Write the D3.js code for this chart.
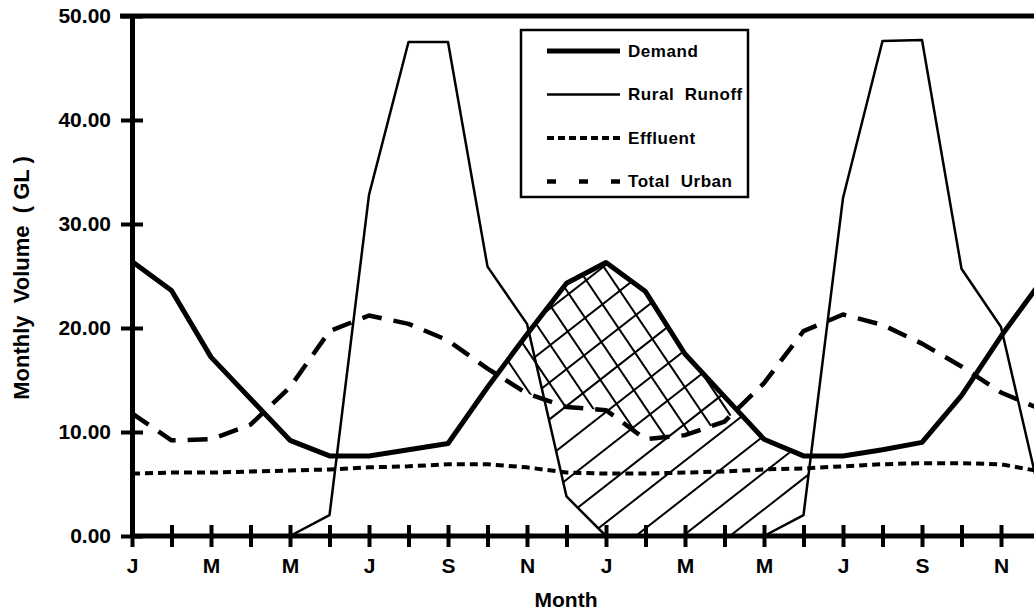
<!DOCTYPE html>
<html>
<head>
<meta charset="utf-8">
<script src="https://cdn.jsdelivr.net/npm/d3@7"></script>
<style>
  html, body { margin: 0; padding: 0; background: #fff; }
  svg { display: block; }
  text { font-family: "Liberation Sans", Arial, sans-serif; font-weight: bold; fill: #000; }
</style>
</head>
<body>
<svg id="chart" width="1034" height="615"></svg>
<script>
// Monthly water balance, two years (Jan..Dec, Jan..Dec, Jan)
const months = ["J","F","M","A","M","J","J","A","S","O","N","D",
                "J","F","M","A","M","J","J","A","S","O","N","D","J"];

const demand   = [26.4, 23.6, 17.2, 13.2, 9.2, 7.7, 7.7, 8.3, 8.9, 14.3, 19.4, 24.3,
                  26.3, 23.5, 17.5, 13.4, 9.3, 7.7, 7.7, 8.3, 9.0, 13.5, 19.2, 24.4, 26.4];
const runoff   = [0, 0, 0, 0, 0, 2.0, 32.8, 47.5, 47.5, 25.9, 20.4, 3.8,
                  0, 0, 0, 0, 0, 2.0, 32.5, 47.6, 47.7, 25.7, 20.1, 3.7, 0];
const effluent = [6.0, 6.1, 6.1, 6.2, 6.3, 6.4, 6.6, 6.7, 6.9, 6.9, 6.6, 6.1,
                  6.0, 6.0, 6.1, 6.2, 6.4, 6.5, 6.7, 6.9, 7.0, 7.0, 6.9, 6.2, 6.0];
const urban    = [11.8, 9.2, 9.3, 10.7, 14.3, 19.7, 21.2, 20.4, 18.8, 16.1, 13.7, 12.4,
                  12.1, 9.3, 9.7, 11.0, 14.7, 19.7, 21.3, 20.3, 18.5, 16.3, 13.8, 12.2, 11.8];

const yTicks = [0, 10, 20, 30, 40, 50];
const lastLabelledMonth = 22;

// Shaded shortfall periods (month index ranges)
const runoffShortfall = [10, 18];   // demand above rural runoff
const urbanShortfall  = [9, 17];    // demand above total urban supply

const legendItems = [
  { label: "Demand",        key: "demand" },
  { label: "Rural  Runoff", key: "runoff" },
  { label: "Effluent",      key: "effluent" },
  { label: "Total  Urban",  key: "urban" }
];

const styles = {
  demand:   { width: 5,   dash: null,    legendDash: null },
  runoff:   { width: 2.5, dash: null,    legendDash: null },
  effluent: { width: 4,   dash: "8,5",   legendDash: "7,4" },
  urban:    { width: 4.5, dash: "20,12", legendDash: "9,23" }
};
const seriesData = { demand, runoff, effluent, urban };

const svg = d3.select("#chart");
const plotLeft = 132, plotTop = 16, plotBottom = 536, monthW = 39.5;
const nM = months.length - 1;

const x = d3.scaleLinear().domain([0, nM]).range([plotLeft, plotLeft + monthW * nM]);
const y = d3.scaleLinear().domain([0, 50]).range([plotBottom, plotTop]);
const idx = d3.range(months.length);

// ---- hatching: explicit parallel strokes clipped to each region
const defs = svg.append("defs");

function hatchLines(g, angleDeg, spacing, x0, x1) {
  // lines through the box [x0,x1] x [plotTop, plotBottom] at the given angle
  const a = angleDeg * Math.PI / 180;
  const dx = Math.cos(a), dy = -Math.sin(a);     // direction along the line
  const nx = -dy, ny = dx;                        // normal
  const cx = (x0 + x1) / 2, cy = (plotTop + plotBottom) / 2;
  const R = Math.hypot(x1 - x0, plotBottom - plotTop);
  const offsets = d3.range(-R, R, spacing);
  g.selectAll(null).data(offsets).join("line")
    .attr("x1", o => cx + nx * o - dx * R).attr("y1", o => cy + ny * o - dy * R)
    .attr("x2", o => cx + nx * o + dx * R).attr("y2", o => cy + ny * o + dy * R)
    .attr("stroke", "#000").attr("stroke-width", 2);
}

function shade(id, range, upper, lower, angle, spacing) {
  const sub = d3.range(range[0], range[1] + 1);
  const below = d3.area().x(i => x(i)).y0(y(0)).y1(i => y(upper[i]));
  const above = d3.area().x(i => x(i)).y0(y(50)).y1(i => y(lower[i]));
  defs.append("clipPath").attr("id", id + "A").append("path").attr("d", below(sub));
  defs.append("clipPath").attr("id", id + "B").append("path").attr("d", above(sub));
  const g = svg.append("g").attr("clip-path", `url(#${id}A)`)
    .append("g").attr("clip-path", `url(#${id}B)`);
  hatchLines(g, angle, spacing, x(range[0]), x(range[1]));
}
shade("shortRunoff", runoffShortfall, demand, runoff, 38, 29);
shade("shortUrban", urbanShortfall, demand, urban, -56, 22);

// ---- series lines
["effluent", "urban", "runoff", "demand"].forEach(k => {
  const data = seriesData[k];
  svg.append("path")
    .attr("d", d3.line().x(i => x(i)).y(i => y(data[i]))(idx))
    .attr("fill", "none")
    .attr("stroke", "#000")
    .attr("stroke-width", styles[k].width)
    .attr("stroke-linejoin", "round")
    .attr("stroke-dasharray", styles[k].dash);
});

// ---- axes
const yAxis = d3.axisLeft(y).tickValues(yTicks).tickFormat(d3.format(".2f"))
  .tickSize(11).tickSizeOuter(0).tickPadding(10);
svg.append("g").attr("transform", `translate(${plotLeft},0)`).call(yAxis)
  .call(g => g.select(".domain").attr("stroke-width", 5))
  .call(g => g.selectAll(".tick line").attr("x1", -11).attr("x2", 11).attr("stroke-width", 4))
  .call(g => g.selectAll(".tick text").attr("font-size", 21).attr("font-family", null));

const xAxis = d3.axisBottom(x).tickValues(d3.range(lastLabelledMonth + 1))
  .tickFormat(i => (i % 2 === 0 ? months[i] : ""))
  .tickSize(11).tickSizeOuter(0).tickPadding(11);
svg.append("g").attr("transform", `translate(0,${plotBottom})`).call(xAxis)
  .call(g => g.select(".domain").attr("d", `M${x(0)},0H${x(nM)}`).attr("stroke-width", 5))
  .call(g => g.selectAll(".tick line").attr("y1", -11).attr("y2", 11).attr("stroke-width", 4))
  .call(g => g.selectAll(".tick text").attr("font-size", 21).attr("font-family", null));

// top frame edge
svg.append("line")
  .attr("x1", plotLeft - 12).attr("x2", x(nM))
  .attr("y1", y(50)).attr("y2", y(50))
  .attr("stroke", "#000").attr("stroke-width", 5);

// ---- axis titles
svg.append("text")
  .attr("transform", "translate(29,278) rotate(-90)")
  .attr("text-anchor", "middle")
  .attr("font-size", 22)
  .style("white-space", "pre")
  .text("Monthly  Volume  ( GL )");

svg.append("text")
  .attr("x", 566).attr("y", 607)
  .attr("text-anchor", "middle")
  .attr("font-size", 21)
  .text("Month");

// ---- legend
const lg = svg.append("g").attr("transform", "translate(521,30)");
lg.append("rect").attr("width", 227).attr("height", 167)
  .attr("fill", "#fff").attr("stroke", "#000").attr("stroke-width", 2.5);
legendItems.forEach((d, i) => {
  const ly = 21 + i * 43.5;
  lg.append("line")
    .attr("x1", 26).attr("x2", 99).attr("y1", ly).attr("y2", ly)
    .attr("stroke", "#000")
    .attr("stroke-width", styles[d.key].width)
    .attr("stroke-dasharray", styles[d.key].legendDash);
  lg.append("text")
    .attr("x", 107).attr("y", ly + 5.5)
    .attr("font-size", 17)
    .attr("letter-spacing", 0.55)
    .style("white-space", "pre")
    .text(d.label);
});
</script>
</body>
</html>
